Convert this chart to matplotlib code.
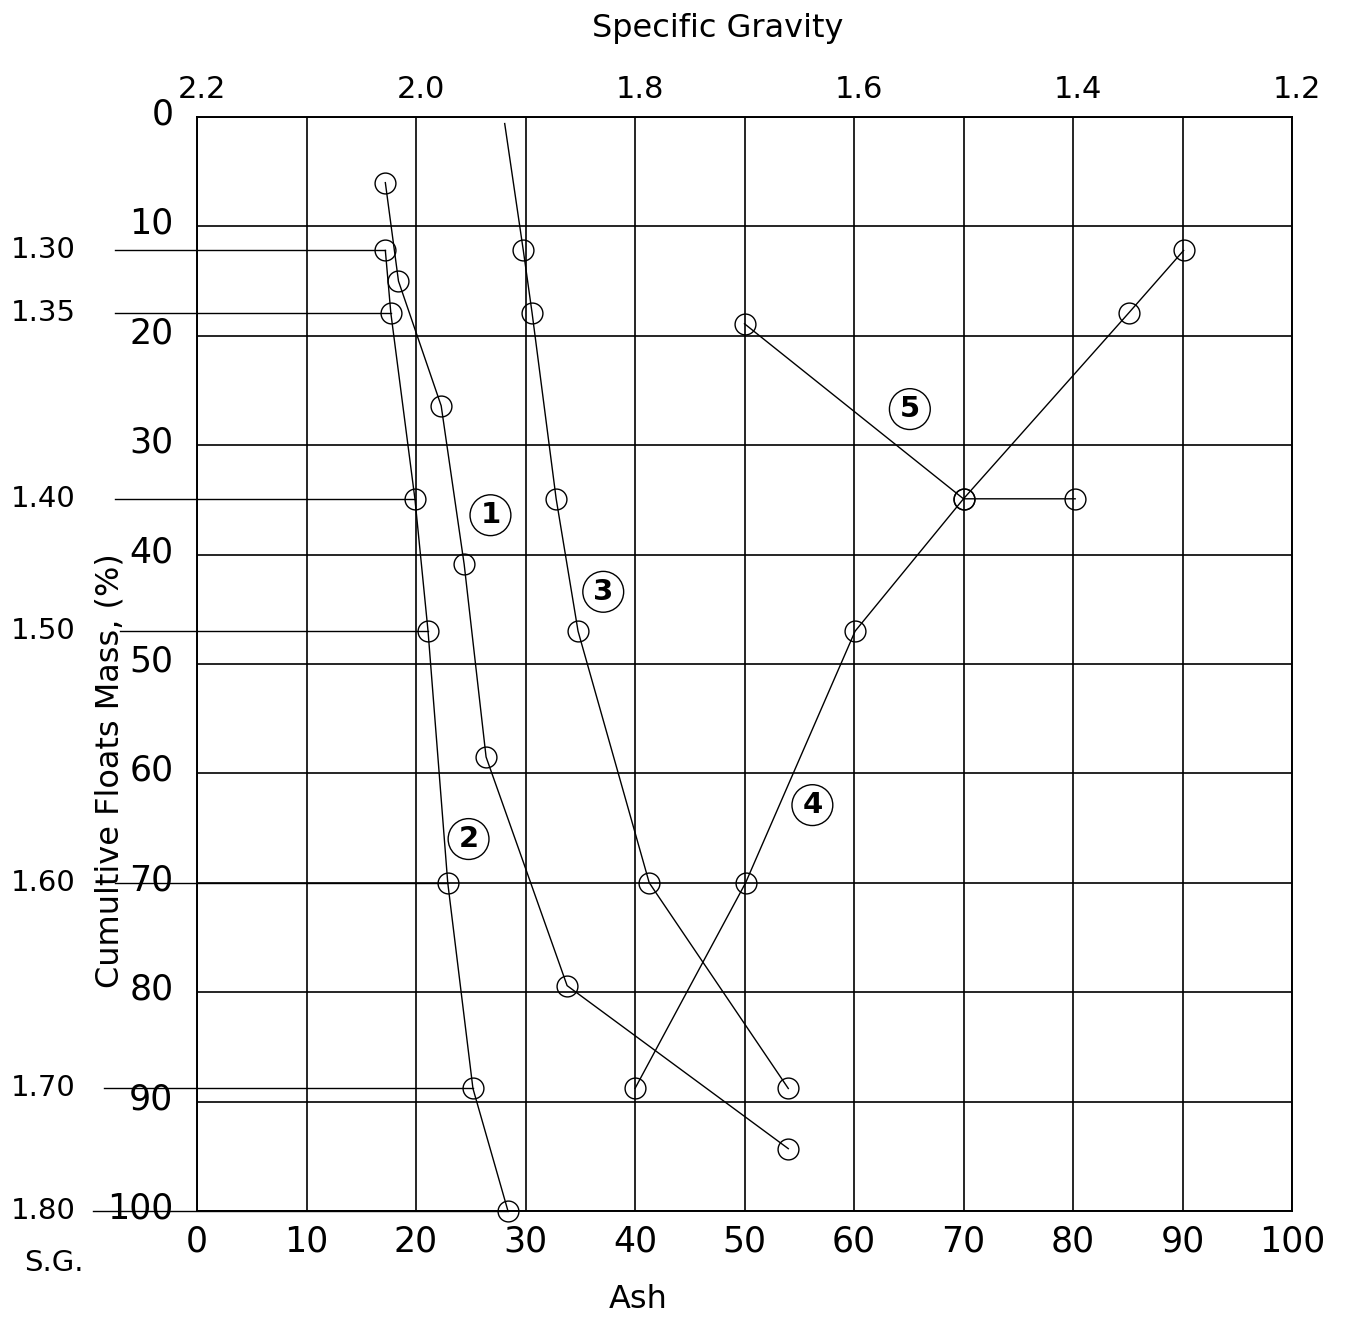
import matplotlib.pyplot as plt
from matplotlib.transforms import ScaledTranslation

# Washability curves: ash (%) vs cumulative floats mass (%)
curve1_ash = [17.2, 18.4, 22.3, 24.4, 26.4, 33.8, 54.0]
curve1_mass = [6.0, 15.0, 26.4, 40.9, 58.5, 79.4, 94.3]

curve2_ash = [17.2, 17.7, 19.9, 21.1, 22.9, 25.2, 28.4]
curve2_mass = [12.2, 17.9, 34.9, 47.0, 70.0, 88.8, 100.0]

# first point of curve 3 has no marker (line starts at the top)
curve3_ash = [28.1, 29.8, 30.6, 32.8, 34.8, 41.3, 54.0]
curve3_mass = [0.6, 12.2, 17.9, 34.9, 47.0, 70.0, 88.8]

curve4_ash = [40.0, 50.1, 60.1, 70.0, 85.1, 90.1]
curve4_mass = [88.8, 70.0, 47.0, 34.9, 17.9, 12.2]

curve5_ash = [50.0, 70.0, 80.2]
curve5_mass = [18.9, 34.9, 34.9]

# specific gravity cut points on the left
sg_labels = ['1.30', '1.35', '1.40', '1.50', '1.60', '1.70', '1.80']
sg_line_start = [-7.5, -7.5, -7.5, -7.0, -7.5, -8.5, -9.5]

# top axis
top_sg = [2.2, 2.0, 1.8, 1.6, 1.4, 1.2]

# circled curve numbers
tag_text = ['1', '2', '3', '4', '5']
tag_x = [26.8, 24.8, 37.1, 56.2, 65.1]
tag_y = [36.4, 66.0, 43.4, 62.9, 26.7]

W, H = 1355, 1322
fig = plt.figure(figsize=(W / 100, H / 100), dpi=100)
ax = fig.add_axes([197 / W, 1 - 1211 / H, 1095 / W, 1094 / H])

ax.set_xlim(0, 100)
ax.set_ylim(100, 0)
ax.set_xticks(range(0, 101, 10))
ax.set_yticks(range(0, 101, 10))
ax.grid(True, color='black', linewidth=1.2)
for s in ax.spines.values():
    s.set_linewidth(1.4)

ax.tick_params(axis='x', length=0, pad=10, labelsize=25)
ax.tick_params(axis='y', length=0, pad=17, labelsize=25)
shift = ScaledTranslation(0, 6 / 100, fig.dpi_scale_trans)
for lab in ax.get_yticklabels():
    lab.set_transform(lab.get_transform() + shift)

# top specific gravity axis
sec = ax.secondary_xaxis('top', functions=(lambda a: 2.2 - a / 100,
                                           lambda s: (2.2 - s) * 100))
sec.set_xticks(top_sg)
sec.set_xticklabels([f"{v:.1f}" for v in top_sg])
sec.tick_params(length=0, pad=9, labelsize=22)
sec.spines['top'].set_visible(False)
for lab in sec.get_xticklabels():
    lab.set_transform(lab.get_transform() + ScaledTranslation(5 / 100, 0, fig.dpi_scale_trans))

style = dict(color='black', linewidth=1.0, marker='o', markersize=15,
             markerfacecolor='none', markeredgecolor='black', markeredgewidth=1.0)

ax.plot(curve1_ash, curve1_mass, **style)
ax.plot(curve2_ash, curve2_mass, clip_on=False, **style)
ax.plot(curve3_ash, curve3_mass, markevery=list(range(1, len(curve3_ash))), **style)
ax.plot(curve4_ash, curve4_mass, **style)
ax.plot(curve5_ash, curve5_mass, **style)

# horizontal cut lines from SG labels to curve 2
for lab, x0, xa, ym in zip(sg_labels, sg_line_start, curve2_ash, curve2_mass):
    ax.plot([x0, xa], [ym, ym], color='black', linewidth=1.0, clip_on=False)
    ax.text(-11.1, ym, lab, ha='right', va='center', fontsize=21, clip_on=False)

for t, x, y in zip(tag_text, tag_x, tag_y):
    ax.text(x, y, t, ha='center', va='center', fontsize=21, fontweight='bold',
            bbox=dict(boxstyle='circle,pad=0.22', fc='none', ec='black', lw=1.0))

fig.text(718 / W, 1 - 28 / H, 'Specific Gravity', ha='center', va='center', fontsize=23)
fig.text(638 / W, 1 - 1300 / H, 'Ash', ha='center', va='center', fontsize=23)
fig.text(54 / W, 1 - 1263 / H, 'S.G.', ha='center', va='center', fontsize=21)
fig.text(110 / W, 1 - 771 / H, 'Cumultive Floats Mass, (%)', ha='center', va='center',
         rotation=90, fontsize=23)

fig.savefig('out.png', dpi=100)
